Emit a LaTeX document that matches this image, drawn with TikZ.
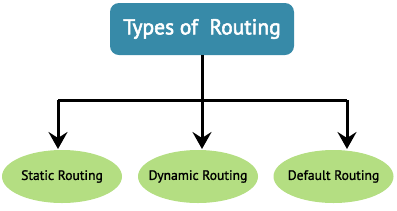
\documentclass[tikz,border=0pt]{standalone}
\usepackage{fontspec}
\setmainfont{PT Sans}[FakeBold=1.2]
\newfontfamily\topfont{PT Sans}[FakeBold=2.6]
\usetikzlibrary{shapes.geometric,arrows.meta}
\definecolor{topblue}{HTML}{378AA8}
\definecolor{leafgreen}{HTML}{B4DE82}
\tikzset{
  topbox/.style={fill=topblue, rounded corners=9pt, minimum width=184pt, minimum height=52pt, text=white, font=\fontsize{21.5}{25}\topfont, inner sep=0pt},
  leaf/.style={ellipse, fill=leafgreen, minimum width=120pt, minimum height=53pt, inner sep=0pt, font=\fontsize{13.6}{16}\selectfont},
  link/.style={line width=3pt},
  arr/.style={line width=3pt, -{Stealth[length=17pt,width=19pt,inset=6pt]}}
}
\begin{document}
\begin{tikzpicture}[x=1pt,y=-1pt]
\useasboundingbox (0,0) rectangle (397,210);
\node[topbox] (root) at (202,29) {Types of\ \ Routing};
\node[leaf] (s) at (62,176.5) {\makebox[0pt]{Static Routing}};
\node[leaf] (d) at (198,176.5) {\makebox[0pt]{Dynamic Routing}};
\node[leaf] (f) at (333.5,176.5) {\makebox[0pt]{Default Routing}};
\coordinate (j) at (202,100);
\coordinate (jl) at (58,100);
\coordinate (jr) at (347,100);
\coordinate (ts) at (58,149);
\coordinate (td) at (202,149);
\coordinate (tf) at (347,149);
\draw[link] (root.south -| j) -- (j);
\draw[link] (jl) -- (jr);
\draw[arr] (jl) -- (ts);
\draw[arr] (j) -- (td);
\draw[arr] (jr) -- (tf);
\end{tikzpicture}
\end{document}
